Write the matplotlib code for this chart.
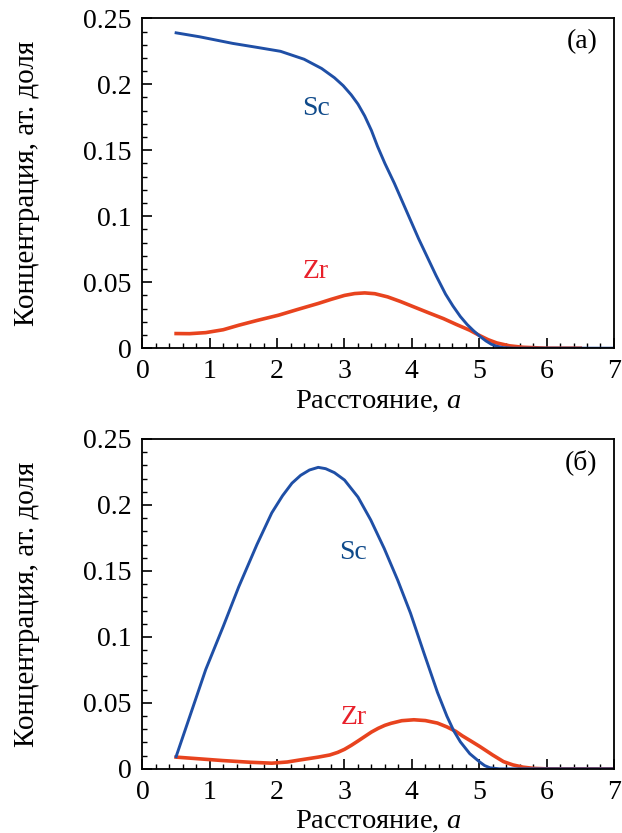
import numpy as np
import matplotlib
matplotlib.use('Agg')
import matplotlib.pyplot as plt
from matplotlib.ticker import MultipleLocator

plt.rcParams['font.family'] = ['Liberation Serif', 'DejaVu Serif']
plt.rcParams['mathtext.fontset'] = 'custom'
plt.rcParams['mathtext.rm'] = 'Liberation Serif'
plt.rcParams['mathtext.it'] = 'Liberation Serif:italic'

# (a) data
sc_a_x = [0.5, 0.85, 1.34, 1.7, 2.05, 2.4, 2.66, 2.85, 2.98, 3.1, 3.2, 3.3, 3.4, 3.49,
          3.6, 3.74, 3.86, 3.98, 4.1, 4.23, 4.36, 4.5, 4.61, 4.72, 4.82, 4.91, 5.01,
          5.1, 5.18, 5.26, 5.35, 5.5, 6.0, 7.0]
sc_a_y = [0.239, 0.236, 0.231, 0.228, 0.225, 0.219, 0.212, 0.205, 0.199, 0.192, 0.185,
          0.176, 0.165, 0.153, 0.140, 0.125, 0.111, 0.097, 0.083, 0.069, 0.055, 0.041,
          0.032, 0.024, 0.018, 0.0135, 0.009, 0.0055, 0.003, 0.0015, 0.0005, 0.0, 0.0,
          0.0]
zr_a_x = [0.5, 0.7, 0.94, 1.2, 1.43, 1.7, 2.02, 2.3, 2.61, 2.8, 3.0, 3.15, 3.3, 3.45,
          3.64, 3.83, 4.03, 4.25, 4.47, 4.66, 4.86, 5.01, 5.13, 5.26, 5.45, 5.65, 6.0,
          6.5]
zr_a_y = [0.0111, 0.0110, 0.0118, 0.0140, 0.0174, 0.021, 0.025, 0.0293, 0.0339, 0.037,
          0.040, 0.0414, 0.0419, 0.0413, 0.0389, 0.0354, 0.0313, 0.0268, 0.0224, 0.018,
          0.0136, 0.0095, 0.0065, 0.0040, 0.0018, 0.0007, 0.0, 0.0]

# (б)
sc_b_x = [0.5, 0.94, 1.2, 1.43, 1.7, 1.92, 2.08, 2.22, 2.35, 2.48, 2.61, 2.72, 2.85,
          3.0, 3.2, 3.39, 3.59, 3.79, 3.98, 4.18, 4.38, 4.52, 4.62, 4.72, 4.86, 5.0,
          5.08, 5.16, 5.3, 5.5, 7.0]
sc_b_y = [0.0093, 0.0753, 0.108, 0.138, 0.170, 0.194, 0.207, 0.2165, 0.2225, 0.2265,
          0.2285, 0.2275, 0.2245, 0.2189, 0.206, 0.1886, 0.167, 0.143, 0.118, 0.0877,
          0.058, 0.040, 0.029, 0.0205, 0.0115, 0.0055, 0.0025, 0.0008, 0.0, 0.0, 0.0]
zr_b_x = [0.5, 1.19, 1.6, 1.92, 2.15, 2.32, 2.61, 2.78, 2.9, 3.0, 3.1, 3.2, 3.3, 3.4,
          3.5, 3.6, 3.69, 3.85, 4.03, 4.2, 4.38, 4.52, 4.65, 4.75, 4.88, 5.01, 5.12,
          5.2, 5.36, 5.5, 5.65, 5.8, 6.0, 7.0]
zr_b_y = [0.0089, 0.0063, 0.0050, 0.0043, 0.0052, 0.0066, 0.0089, 0.0105, 0.0125,
          0.0148, 0.0178, 0.0211, 0.0245, 0.0279, 0.0307, 0.0330, 0.0345, 0.0365, 0.0372,
          0.0366, 0.0347, 0.0318, 0.0285, 0.025, 0.021, 0.0169, 0.0132, 0.0105, 0.0055,
          0.0030, 0.0013, 0.0004, 0.0, 0.0]

yticks = [0, 0.05, 0.1, 0.15, 0.2, 0.25]
yticklabels = ['0', '0.05', '0.1', '0.15', '0.2', '0.25']

blue = '#1f4fa6'
red = '#e8431e'

fig = plt.figure(figsize=(6.22, 8.33), dpi=100)
ax1 = fig.add_axes([0.229, 0.582, 0.758, 0.396])
ax2 = fig.add_axes([0.229, 0.077, 0.758, 0.396])

panels = [
    (ax1, sc_a_x, sc_a_y, zr_a_x, zr_a_y, '(a)', (2.58, 0.182), (2.58, 0.058)),
    (ax2, sc_b_x, sc_b_y, zr_b_x, zr_b_y, '(б)', (3.12, 0.164), (3.13, 0.039)),
]

for ax, sx, sy, zx, zy, tag, sc_pos, zr_pos in panels:
    ax.plot(zx, zy, color=red, lw=2.6, solid_joinstyle='round')
    ax.plot(sx, sy, color=blue, lw=2.1, solid_joinstyle='round')
    ax.set_xlim(0, 7)
    ax.set_ylim(0, 0.25)
    ax.set_xticks(range(8))
    ax.set_yticks(yticks)
    ax.set_yticklabels(yticklabels)
    ax.xaxis.set_minor_locator(MultipleLocator(0.2))
    ax.yaxis.set_minor_locator(MultipleLocator(0.01))
    ax.tick_params(which='both', direction='in', top=False, right=False,
                   labelsize=20, width=1.2, colors='black')
    ax.tick_params(which='major', length=7, pad=8)
    ax.tick_params(which='minor', length=3.5, width=1.0)
    for sp in ax.spines.values():
        sp.set_linewidth(1.3)
    ax.set_xlabel('Расстояние, $a$', fontsize=20.5, labelpad=3)
    ax.set_ylabel('Концентрация, ат. доля', fontsize=21, labelpad=31)
    ax.text(0.965, 0.93, tag, transform=ax.transAxes, ha='right', va='center', fontsize=20)
    ax.text(sc_pos[0], sc_pos[1], 'Sc', color='#0f4a8a', fontsize=20, ha='center', va='center')
    ax.text(zr_pos[0], zr_pos[1], 'Zr', color='#e8202a', fontsize=20, ha='center', va='center')

fig.savefig('out.png', dpi=100)
